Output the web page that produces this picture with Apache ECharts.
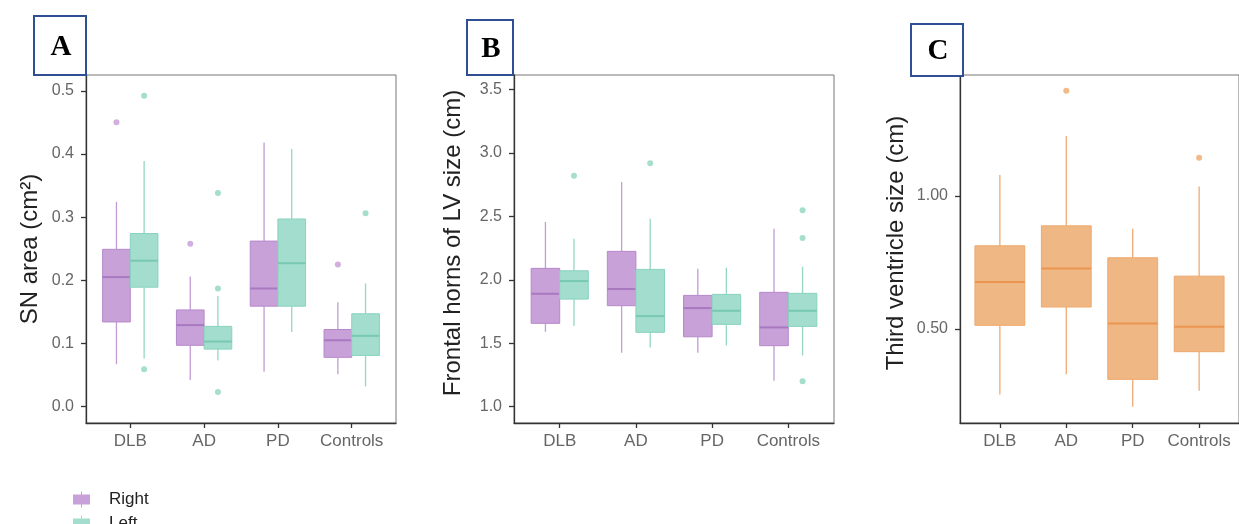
<!DOCTYPE html>
<html>
<head>
<meta charset="utf-8">
<script src="https://cdn.jsdelivr.net/npm/echarts@6/dist/echarts.min.js"></script>
<style>
html,body{margin:0;padding:0;background:#fff;}
#chart{width:1239px;height:524px;}
</style>
</head>
<body>
<div id="chart"></div>
<script>
// ---------- DATA ----------
const categories = ['DLB', 'AD', 'PD', 'Controls'];
const groupNames = ['Right', 'Left'];

// [lower whisker, Q1, median, Q3, upper whisker]
const snRight = [
  [0.067, 0.134, 0.205, 0.249, 0.324],
  [0.042, 0.097, 0.129, 0.153, 0.206],
  [0.055, 0.159, 0.187, 0.262, 0.418],
  [0.051, 0.078, 0.105, 0.122, 0.165]
];
const snLeft = [
  [0.076, 0.189, 0.231, 0.274, 0.389],
  [0.073, 0.091, 0.103, 0.127, 0.175],
  [0.118, 0.159, 0.227, 0.297, 0.408],
  [0.032, 0.081, 0.112, 0.147, 0.195]
];
// [category index, value]
const snRightOutliers = [[0, 0.450], [1, 0.258], [3, 0.225]];
const snLeftOutliers = [[0, 0.492], [0, 0.059], [1, 0.338], [1, 0.187], [1, 0.023], [3, 0.306]];

const lvRight = [
  [1.591, 1.657, 1.890, 2.090, 2.455],
  [1.425, 1.796, 1.927, 2.224, 2.770],
  [1.425, 1.551, 1.777, 1.877, 2.087],
  [1.205, 1.481, 1.625, 1.901, 2.402]
];
const lvLeft = [
  [1.636, 1.848, 1.990, 2.071, 2.324],
  [1.467, 1.586, 1.714, 2.082, 2.481],
  [1.483, 1.649, 1.756, 1.885, 2.095],
  [1.404, 1.633, 1.756, 1.893, 2.103]
];
const lvRightOutliers = [];
const lvLeftOutliers = [[0, 2.820], [1, 2.917], [3, 2.547], [3, 2.329], [3, 1.200]];

const thirdV = [
  [0.254, 0.514, 0.677, 0.813, 1.079],
  [0.330, 0.583, 0.728, 0.888, 1.226],
  [0.208, 0.311, 0.521, 0.768, 0.877],
  [0.268, 0.415, 0.509, 0.699, 1.036]
];
const thirdVOutliers = [[1, 1.396], [3, 1.144]];

const snTicks = [0.0, 0.1, 0.2, 0.3, 0.4, 0.5];
const lvTicks = [1.0, 1.5, 2.0, 2.5, 3.0, 3.5];
const thirdTicks = [0.50, 1.00];

const panelLetters = ['A', 'B', 'C'];
const yTitles = ['SN area (cm\u00B2)', 'Frontal horns of LV size (cm)', 'Third ventricle size (cm)'];

// ---------- STYLE ----------
const FONT = '"Liberation Sans", Arial, sans-serif';
const COL = {
  Right: {fill: '#C8A1D9', stroke: '#B688CB', median: '#A878C0', whisker: '#C39BD5', point: '#C59BD7'},
  Left: {fill: '#A2DDCD', stroke: '#88D3BE', median: '#79C9B2', whisker: '#95D7C4', point: '#8ED6C1'},
  Third: {fill: '#EFB784', stroke: '#EEA86C', median: '#EC9550', whisker: '#EFAA73', point: '#EFA86C'}
};

const chart = echarts.init(document.getElementById('chart'), null, {renderer: 'canvas'});

function boxRender(offset, halfW, c) {
  return function (params, api) {
    const x = api.value(0) + offset;
    const lo = api.value(1), q1 = api.value(2), md = api.value(3), q3 = api.value(4), hi = api.value(5);
    const pHi = api.coord([x, hi]), pQ3 = api.coord([x, q3]), pQ1 = api.coord([x, q1]), pLo = api.coord([x, lo]);
    const tl = api.coord([x - halfW, q3]);
    const br = api.coord([x + halfW, q1]);
    const mL = api.coord([x - halfW, md]);
    const mR = api.coord([x + halfW, md]);
    return {
      type: 'group',
      children: [
        {type: 'line', shape: {x1: pHi[0], y1: pHi[1], x2: pQ3[0], y2: pQ3[1]}, style: {stroke: c.whisker, lineWidth: 1.3}},
        {type: 'line', shape: {x1: pQ1[0], y1: pQ1[1], x2: pLo[0], y2: pLo[1]}, style: {stroke: c.whisker, lineWidth: 1.3}},
        {type: 'rect', shape: {x: tl[0], y: tl[1], width: br[0] - tl[0], height: br[1] - tl[1]},
          style: {fill: c.fill, stroke: c.stroke, lineWidth: 1}},
        {type: 'line', shape: {x1: mL[0], y1: mL[1], x2: mR[0], y2: mR[1]}, style: {stroke: c.median, lineWidth: 2}}
      ]
    };
  };
}

function boxSeries(name, arr, gi, offset, halfW, c) {
  return {
    type: 'custom',
    name: name,
    xAxisIndex: gi, yAxisIndex: gi,
    renderItem: boxRender(offset, halfW, c),
    itemStyle: {color: c.fill},
    encode: {x: 0, y: [1, 2, 3, 4, 5]},
    data: arr.map((d, i) => [i + 1].concat(d)),
    silent: true,
    z: 3
  };
}
function outlierSeries(name, arr, gi, offset, c) {
  return {
    type: 'scatter',
    name: name,
    xAxisIndex: gi, yAxisIndex: gi,
    symbol: 'circle',
    symbolSize: 6,
    itemStyle: {color: c.point},
    data: arr.map(d => [d[0] + 1 + offset, d[1]]),
    silent: true,
    z: 4
  };
}

const grids = [
  {left: 86, width: 310, top: 75, height: 348},
  {left: 514, width: 320, top: 75, height: 348},
  {left: 960, width: 290, top: 75, height: 348}
].map(g => Object.assign(g, {show: true, borderColor: '#777', borderWidth: 1, backgroundColor: 'transparent', containLabel: false}));

const xAxes = [0, 1, 2].map(i => ({
  type: 'value', gridIndex: i, min: 0.4, max: 4.6,
  axisLine: {show: true, onZero: false, lineStyle: {color: '#333', width: 1.3}},
  axisTick: {show: true, customValues: [1, 2, 3, 4], length: 5, lineStyle: {color: '#333', width: 1.3}},
  axisLabel: {show: true, customValues: [1, 2, 3, 4], formatter: v => categories[Math.round(v) - 1],
    color: '#666', fontSize: 17, fontFamily: FONT, margin: 10},
  splitLine: {show: false}
}));

const yRanges = [[-0.026, 0.525, snTicks, 1], [0.872, 3.613, lvTicks, 1], [0.147, 1.455, thirdTicks, 2]];
const yGaps = [44, 49, 52];
const yNamePad = [[0, 0, 0, 0], [0, 0, 0, 12], [0, 0, 0, 12]];
const yAxes = yRanges.map((r, i) => ({
  type: 'value', gridIndex: i, min: r[0], max: r[1],
  name: yTitles[i], nameLocation: 'middle', nameGap: yGaps[i],
  nameTextStyle: {fontSize: 24, color: '#222', fontFamily: FONT, padding: yNamePad[i]},
  axisLine: {show: true, onZero: false, lineStyle: {color: '#333', width: 1.3}},
  axisTick: {show: true, customValues: r[2], length: 5, lineStyle: {color: '#333', width: 1.3}},
  axisLabel: {show: true, customValues: r[2], formatter: v => v.toFixed(r[3]),
    color: '#666', fontSize: 16, fontFamily: FONT, margin: 12},
  splitLine: {show: false}
}));

const dodge = 0.1875, halfDodge = 0.1875;
const series = [
  boxSeries('Right', snRight, 0, -dodge, halfDodge, COL.Right),
  boxSeries('Left', snLeft, 0, dodge, halfDodge, COL.Left),
  outlierSeries('Right outliers', snRightOutliers, 0, -dodge, COL.Right),
  outlierSeries('Left outliers', snLeftOutliers, 0, dodge, COL.Left),
  boxSeries('Right', lvRight, 1, -dodge, halfDodge, COL.Right),
  boxSeries('Left', lvLeft, 1, dodge, halfDodge, COL.Left),
  outlierSeries('Right outliers', lvRightOutliers, 1, -dodge, COL.Right),
  outlierSeries('Left outliers', lvLeftOutliers, 1, dodge, COL.Left),
  boxSeries('Third ventricle', thirdV, 2, 0, 0.375, COL.Third),
  outlierSeries('Third outliers', thirdVOutliers, 2, 0, COL.Third)
];

const letterBoxes = [
  {x: 33, y: 15, w: 52, h: 59},
  {x: 466, y: 19, w: 46, h: 55},
  {x: 910, y: 23, w: 52, h: 52}
];
const graphic = [];
letterBoxes.forEach((b, i) => {
  graphic.push({
    type: 'rect', left: b.x, top: b.y, z: 10,
    shape: {width: b.w, height: b.h},
    style: {fill: '#fff', stroke: '#2E4F93', lineWidth: 2}
  });
  graphic.push({
    type: 'text', z: 11,
    x: b.x + b.w / 2 + 2, y: b.y + b.h / 2 + 3,
    style: {text: panelLetters[i], fill: '#000', font: 'bold 29px "Liberation Serif", "Times New Roman", serif',
      align: 'center', verticalAlign: 'middle'}
  });
});

const legendIcon = 'path://M0,3 L17,3 L17,13 L0,13 Z M8,0 L9,0 L9,3 L8,3 Z M8,13 L9,13 L9,16 L8,16 Z';
const legends = groupNames.map((n, i) => ({
  show: true, orient: 'vertical', left: 68, top: 486 + i * 24,
  data: [n],
  icon: legendIcon, itemWidth: 17, itemHeight: 16,
  textStyle: {fontSize: 17, color: '#222', fontFamily: FONT, padding: [0, 0, 0, 14]},
  selectedMode: false
}));

chart.setOption({
  animation: false,
  backgroundColor: '#fff',
  textStyle: {fontFamily: FONT},
  grid: grids,
  xAxis: xAxes,
  yAxis: yAxes,
  legend: legends,
  graphic: graphic,
  series: series
});
</script>
</body>
</html>
